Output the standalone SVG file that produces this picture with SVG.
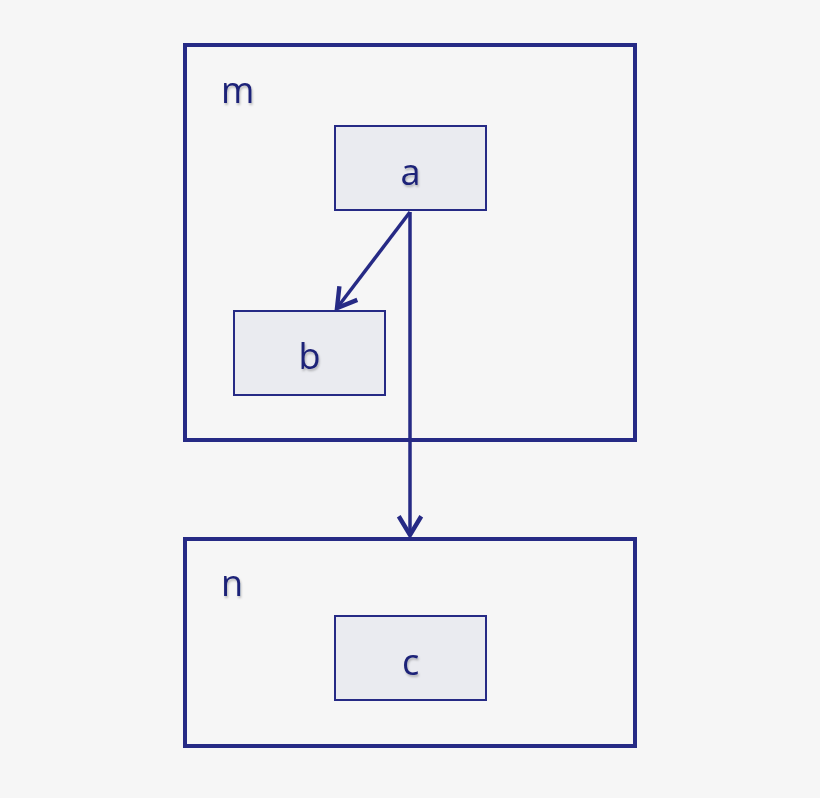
<svg xmlns="http://www.w3.org/2000/svg" width="820" height="798" viewBox="0 0 820 798">
<defs>
<style>
.grp{fill:none;stroke:#262a85;stroke-width:4}
.node{fill:#eaebf0;stroke:#262a85;stroke-width:2}
.lbl{font-family:"Open Sans","Liberation Sans",sans-serif;font-size:36px;fill:#1f2478}
.edge{fill:none;stroke:#262a85;stroke-width:3.5}
</style>
<filter id="sh" x="-20%" y="-20%" width="140%" height="140%">
<feDropShadow dx="1" dy="2" stdDeviation="1.2" flood-color="#000" flood-opacity="0.25"/>
</filter>
<marker id="ah" markerUnits="userSpaceOnUse" markerWidth="30" markerHeight="30" refX="0" refY="0" viewBox="-18 -12 22 24" orient="auto">
<path d="M -15 -9 L 0 0 L -15 9" fill="none" stroke="#262a85" stroke-width="3.5" stroke-linejoin="miter"/>
</marker>
</defs>
<rect width="820" height="798" fill="#f6f6f6"/>
<g id="m">
<rect class="grp" x="185" y="45" width="450" height="395"/>
<text class="lbl" x="221" y="103" filter="url(#sh)">m</text>
</g>
<g id="n">
<rect class="grp" x="185" y="539" width="450" height="207"/>
<text class="lbl" x="221" y="596" filter="url(#sh)">n</text>
</g>
<g id="a">
<rect class="node" x="335" y="126" width="151" height="84"/>
<text class="lbl" x="410.5" y="185" text-anchor="middle" filter="url(#sh)">a</text>
</g>
<g id="b">
<rect class="node" x="234" y="311" width="151" height="84"/>
<text class="lbl" x="309.5" y="369" text-anchor="middle" filter="url(#sh)">b</text>
</g>
<g id="c">
<rect class="node" x="335" y="616" width="151" height="84"/>
<text class="lbl" x="410.5" y="675" text-anchor="middle" filter="url(#sh)">c</text>
</g>
<g id="connectors">
<line class="edge" x1="410" y1="212" x2="337" y2="308" marker-end="url(#ah)"/>
<line class="edge" x1="410" y1="212" x2="410" y2="535" marker-end="url(#ah)"/>
</g>
</svg>
